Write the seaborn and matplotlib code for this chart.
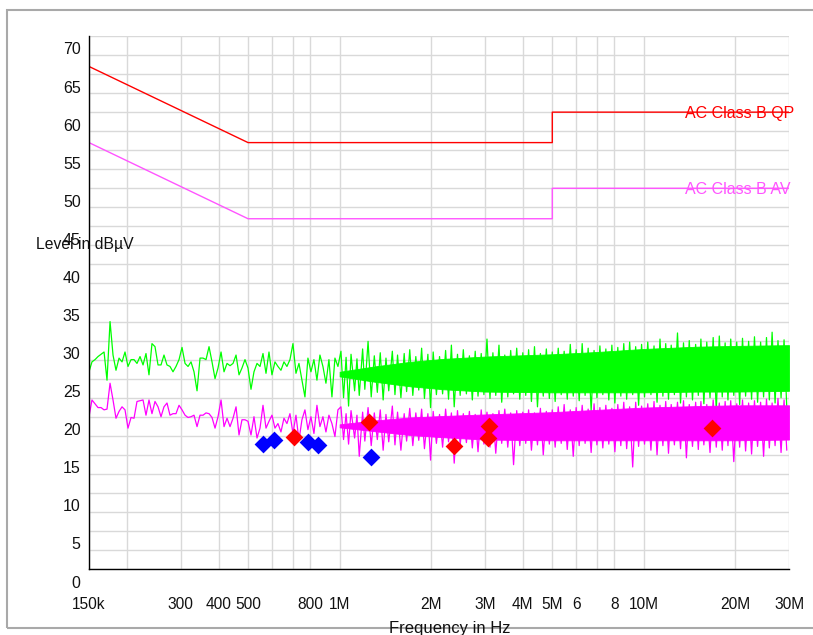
import numpy as np
import matplotlib
matplotlib.use("Agg")
import matplotlib.pyplot as plt
import matplotlib.transforms as mtransforms
from matplotlib.patches import Rectangle
import seaborn as sns

# ---- limit lines (frequency in MHz, level in dBµV) ----
qp_freq = [0.15, 0.5, 5.0, 5.0, 30.0]
qp_level = [66.0, 56.0, 56.0, 60.0, 60.0]
av_freq = [0.15, 0.5, 5.0, 5.0, 30.0]
av_level = [56.0, 46.0, 46.0, 50.0, 50.0]

# ---- sparse part of the sweep, 150 kHz .. 1 MHz (kHz) ----
sweep_khz = [150.0, 153.4, 157.0, 160.6, 164.3, 168.1, 171.9, 175.9, 179.9, 184.0,
             188.3, 192.6, 197.0, 201.5, 206.2, 210.9, 215.7, 220.7, 225.8, 230.9,
             236.2, 241.6, 247.2, 252.9, 258.7, 264.6, 270.7, 276.9, 283.3, 289.8,
             296.5, 303.3, 310.3, 317.4, 324.7, 332.1, 339.8, 347.6, 355.6, 363.7,
             372.1, 380.6, 389.4, 398.3, 407.5, 416.8, 426.4, 436.2, 446.2, 456.5,
             466.9, 477.5, 488.5, 499.7, 511.2, 522.9, 535.0, 547.3, 559.8, 572.7,
             585.8, 599.1, 612.9, 626.9, 641.3, 656.1, 671.1, 686.6, 702.3, 718.5,
             735.0, 751.7, 769.0, 786.6, 804.7, 823.2, 842.1, 861.4, 881.2, 901.5,
             922.1, 943.3, 965.0, 987.2]
peak_low = [25.9, 27.2, 27.5, 27.9, 28.2, 28.5, 24.8, 32.5, 28.1, 26.1,
            27.7, 27.2, 28.5, 26.6, 27.5, 27.5, 27.0, 27.9, 26.8, 28.3,
            25.5, 29.6, 29.2, 26.8, 26.8, 28.1, 26.8, 26.6, 25.9, 26.6,
            27.5, 29.1, 27.0, 26.6, 27.2, 25.9, 23.4, 27.7, 27.7, 27.5,
            29.2, 27.2, 25.0, 26.4, 28.5, 25.9, 27.0, 26.7, 27.0, 28.1,
            25.5, 26.4, 27.5, 26.4, 23.6, 25.9, 27.0, 26.6, 28.3, 25.7,
            28.5, 25.5, 27.2, 26.6, 26.1, 27.2, 26.6, 27.5, 29.6, 25.7,
            27.0, 24.8, 22.6, 27.7, 25.9, 27.5, 24.8, 28.1, 26.6, 24.4,
            27.5, 22.6, 27.7, 26.6]
avg_low = [20.0, 22.2, 21.7, 21.2, 21.2, 20.9, 21.0, 24.4, 22.2, 19.8,
           20.7, 21.3, 20.9, 18.5, 19.9, 19.8, 22.0, 22.1, 22.2, 20.2,
           22.2, 20.4, 22.0, 21.3, 20.0, 21.3, 21.8, 20.2, 20.4, 20.4,
           21.5, 20.9, 20.2, 19.9, 20.0, 20.2, 18.7, 20.2, 20.2, 20.5,
           20.4, 19.9, 18.5, 20.0, 22.2, 18.7, 19.8, 18.7, 19.8, 21.3,
           17.6, 19.6, 19.6, 19.4, 17.6, 20.0, 17.2, 18.5, 21.5, 18.5,
           19.4, 20.2, 18.5, 19.1, 18.0, 19.8, 19.1, 20.4, 17.8, 20.2,
           16.9, 19.6, 20.9, 18.3, 20.0, 17.8, 21.5, 18.7, 20.0, 18.0,
           20.2, 19.1, 17.4, 20.9]

# ---- dense part of the sweep, 1 .. 30 MHz: solid core of the trace ----
band_mhz = [1.0, 1.3, 1.7, 2.2, 3.0, 5.0, 7.0, 10.0, 15.0, 20.0, 30.0]
peak_hi = [25.9, 26.6, 27.2, 27.6, 27.9, 28.2, 28.5, 28.9, 29.2, 29.3, 29.4]
peak_lo = [25.3, 24.6, 24.0, 23.6, 23.3, 23.2, 23.2, 23.2, 23.3, 23.3, 23.4]
avg_hi = [19.0, 19.5, 19.9, 20.1, 20.3, 20.6, 20.9, 21.2, 21.4, 21.5, 21.5]
avg_lo = [18.6, 18.1, 17.6, 17.3, 17.0, 16.9, 16.9, 16.9, 16.9, 16.9, 17.0]

# local maxima of the dense trace (MHz)
up_mhz = [1.01, 1.05, 1.09, 1.14, 1.19, 1.24, 1.30, 1.36, 1.42, 1.49, 1.55, 1.63, 1.70,
          1.78, 1.86, 1.95, 2.03, 2.13, 2.23, 2.33, 2.44, 2.55, 2.67, 2.79, 2.92, 3.05,
          3.19, 3.34, 3.49, 3.65, 3.82, 4.00, 4.18, 4.37, 4.57, 4.78, 5.00, 5.23, 5.47,
          5.73, 5.99, 6.27, 6.56, 6.86, 7.17, 7.50, 7.85, 8.21, 8.59, 8.98, 9.40, 9.83,
          10.3, 10.8, 11.3, 11.8, 12.3, 12.9, 13.5, 14.1, 14.8, 15.4, 16.1, 16.9, 17.7,
          18.5, 19.3, 20.2, 21.1, 22.1, 23.1, 24.2, 25.3, 26.4, 27.6, 28.9]
peak_up = [28.6, 27.8, 28.2, 27.6, 28.9, 29.9, 28.0, 28.4, 27.7, 28.6, 28.1, 28.3, 28.8,
           27.9, 29.0, 28.2, 28.5, 27.9, 28.7, 29.4, 28.2, 28.8, 28.0, 28.6, 28.3, 30.2,
           28.4, 29.4, 28.1, 28.7, 29.0, 28.4, 28.8, 29.2, 28.3, 28.9, 28.5, 29.0, 28.6,
           29.5, 28.8, 29.6, 29.0, 28.7, 29.3, 28.9, 29.4, 29.1, 29.6, 29.8, 29.2, 29.5,
           29.8, 29.3, 30.2, 29.6, 29.4, 31.0, 29.7, 30.0, 29.5, 30.2, 29.8, 30.4, 30.6,
           29.7, 30.2, 29.8, 30.3, 29.9, 30.5, 29.8, 30.4, 31.1, 30.0, 30.1]
avg_up = [21.3, 20.4, 20.8, 20.2, 20.6, 21.2, 20.5, 20.9, 20.3, 21.4, 20.6, 20.4, 21.1,
          20.5, 21.0, 20.4, 20.7, 20.3, 21.0, 20.5, 20.8, 20.4, 20.7, 20.3, 20.9, 20.6,
          20.4, 20.8, 21.0, 20.5, 20.8, 20.6, 20.9, 20.5, 21.1, 20.7, 20.9, 21.3, 21.6,
          20.9, 21.2, 21.5, 21.0, 21.7, 21.2, 21.5, 21.1, 21.6, 21.9, 21.3, 21.9, 21.4,
          21.7, 22.0, 21.5, 22.0, 21.6, 21.9, 22.1, 21.6, 21.9, 22.0, 21.6, 22.2, 21.8,
          22.0, 22.1, 21.7, 22.2, 21.8, 22.1, 21.9, 22.3, 21.8, 22.4, 22.2]

# local minima of the dense trace (MHz)
dn_mhz = [1.03, 1.07, 1.12, 1.16, 1.21, 1.27, 1.33, 1.39, 1.45, 1.52, 1.59, 1.66, 1.74,
          1.82, 1.90, 1.99, 2.08, 2.18, 2.28, 2.38, 2.49, 2.61, 2.73, 2.85, 2.98, 3.12,
          3.26, 3.41, 3.57, 3.73, 3.91, 4.09, 4.27, 4.47, 4.67, 4.89, 5.11, 5.35, 5.60,
          5.86, 6.13, 6.41, 6.71, 7.01, 7.33, 7.67, 8.03, 8.40, 8.78, 9.19, 9.61, 10.05,
          10.55, 11.05, 11.55, 12.05, 12.6, 13.2, 13.8, 14.45, 15.1, 15.75, 16.5, 17.3,
          18.1, 18.9, 19.75, 20.65, 21.6, 22.6, 23.65, 24.75, 25.85, 27.0, 28.25, 29.5]
peak_dn = [22.5, 21.4, 23.4, 22.8, 23.6, 22.6, 23.2, 22.2, 23.4, 22.9, 22.5, 23.3, 22.8,
           23.5, 22.4, 21.2, 22.9, 23.0, 22.3, 21.3, 22.8, 23.0, 22.2, 22.7, 22.9, 22.4,
           22.8, 21.9, 22.6, 23.0, 22.3, 22.8, 22.0, 21.3, 22.7, 22.4, 22.0, 22.9, 22.3,
           22.7, 22.1, 22.8, 20.8, 22.5, 22.9, 22.2, 21.8, 22.7, 22.3, 22.9, 21.5, 22.6,
           22.9, 21.9, 22.7, 22.3, 22.9, 21.8, 22.6, 22.2, 22.8, 21.7, 22.5, 20.9, 22.6,
           22.2, 22.8, 21.6, 22.7, 22.3, 21.9, 22.6, 22.2, 21.8, 22.5, 21.2]
avg_dn = [17.0, 16.4, 17.2, 14.8, 16.8, 16.2, 17.0, 15.6, 16.7, 16.3, 15.6, 16.8, 16.2,
          16.9, 15.8, 14.3, 16.5, 16.0, 16.7, 13.9, 16.3, 16.6, 15.9, 15.4, 16.4, 16.0,
          15.2, 16.5, 16.0, 13.7, 16.2, 16.5, 15.6, 16.3, 15.0, 16.4, 16.0, 16.5, 15.7,
          14.8, 16.2, 16.5, 15.3, 16.3, 15.9, 16.4, 15.4, 16.2, 15.8, 13.4, 16.1, 16.4,
          15.6, 15.0, 16.2, 15.2, 16.3, 15.8, 14.6, 16.1, 15.7, 16.3, 15.3, 16.0, 15.6,
          16.2, 14.1, 16.0, 15.5, 15.1, 16.1, 14.8, 15.9, 16.2, 15.3, 15.6]

# ---- final measurements ----
red_mhz = [0.709, 1.248, 2.375, 3.09, 3.08, 16.76]
red_lvl = [17.4, 19.3, 16.2, 18.8, 17.2, 18.5]
blue_mhz = [0.561, 0.610, 0.785, 0.847, 1.265]
blue_lvl = [16.4, 16.9, 16.7, 16.3, 14.7]

# ---- axis ticks ----
xtick_mhz = [0.15, 0.2, 0.3, 0.4, 0.5, 0.6, 0.7, 0.8, 1, 2, 3, 4, 5, 6, 7, 8, 10, 20, 30]
xtick_txt = ["150k", "", "300", "400", "500", "", "", "800", "1M", "2M", "3M", "4M",
             "5M", "6", "", "8", "10M", "20M", "30M"]

GREEN = "#00ff00"
MAGENTA = "#ff00ff"

sns.set_theme(style="white")
plt.rcParams["font.family"] = ["Liberation Sans", "DejaVu Sans"]

fig = plt.figure(figsize=(8.13, 6.35), dpi=100)
ax = fig.add_axes([89 / 813, 1 - 569 / 635, 700 / 813, 533 / 635])


def full_trace(low_vals, up_vals, dn_vals):
    """Sparse low-band samples followed by the alternating maxima/minima above 1 MHz."""
    f = [k / 1000.0 for k in sweep_khz]
    v = list(low_vals)
    for fu, vu, fd, vd in zip(up_mhz, up_vals, dn_mhz, dn_vals):
        f += [fu, fd]
        v += [vu, vd]
    return f, v


def draw_trace(color, lo, hi, low_vals, up_vals, dn_vals, z):
    ax.fill_between(band_mhz, lo, hi, color=color, lw=0.6, zorder=z)
    f, v = full_trace(low_vals, up_vals, dn_vals)
    sns.lineplot(x=f, y=v, ax=ax, color=color, lw=0.9, sort=False,
                 estimator=None, zorder=z)


draw_trace(GREEN, peak_lo, peak_hi, peak_low, peak_up, peak_dn, 3)
draw_trace(MAGENTA, avg_lo, avg_hi, avg_low, avg_up, avg_dn, 4)

# limit lines
sns.lineplot(x=qp_freq, y=qp_level, ax=ax, color="#ff0000", lw=1.0, sort=False,
             estimator=None, zorder=5)
sns.lineplot(x=av_freq, y=av_level, ax=ax, color="#ff55ff", lw=1.0, sort=False,
             estimator=None, zorder=5)
ax.text(13.7, 59.8, "AC Class B QP", color="#ff0000", fontsize=11.5,
        ha="left", va="center", clip_on=False, zorder=6)
ax.text(13.7, 49.8, "AC Class B AV", color="#ff55ff", fontsize=11.5,
        ha="left", va="center", clip_on=False, zorder=6)

# final measurement markers
sns.scatterplot(x=blue_mhz, y=blue_lvl, ax=ax, marker="D", s=82, color="#0000ff",
                linewidth=0, zorder=7)
sns.scatterplot(x=red_mhz, y=red_lvl, ax=ax, marker="D", s=82, color="#ff0000",
                linewidth=0, zorder=7)

# axes
ax.set_xscale("log")
ax.set_xlim(0.15, 30)
ax.set_ylim(0, 70)
ax.set_xticks(xtick_mhz)
ax.set_xticklabels(xtick_txt)
ax.xaxis.set_minor_locator(matplotlib.ticker.NullLocator())
yt = np.arange(0, 72.5, 2.5)
ax.set_yticks(yt)
ax.set_yticklabels([str(int(v)) if v % 5 == 0 else "" for v in yt])

ax.grid(True, color="#d9d9d9", lw=1.0, zorder=0)
ax.set_axisbelow(True)
for side in ("top", "right"):
    ax.spines[side].set_visible(False)
for side in ("left", "bottom"):
    ax.spines[side].set_color("black")
    ax.spines[side].set_linewidth(1.0)
    ax.spines[side].set_zorder(8)

ax.tick_params(axis="y", direction="inout", length=7, width=1.0, color="black",
               pad=2.5, labelsize=11.5, labelcolor="#111111")
ax.tick_params(axis="x", direction="inout", length=6, width=1.0, color="black",
               pad=17, labelsize=11.2, labelcolor="#111111")
shift = mtransforms.ScaledTranslation(0, -12.5 / 100, fig.dpi_scale_trans)
for lab in ax.get_yticklabels():
    lab.set_transform(lab.get_transform() + shift)

ax.set_xlabel("")
ax.set_ylabel("")
fig.text(36 / 813, 1 - 245 / 635, "Level in dBµV", fontsize=11.3, ha="left",
         va="center", color="#111111")
fig.text(450 / 813, 1 - 621 / 635, "Frequency in Hz", fontsize=12, ha="center",
         va="top", color="#111111")

# outer frame of the report panel
fig.add_artist(Rectangle((7 / 813, 1 - 628 / 635), 1.2, (628 - 10) / 635,
                         transform=fig.transFigure, fill=False,
                         edgecolor="#a9a9a9", lw=1.5, zorder=0))

fig.savefig("out.png", dpi=100)
